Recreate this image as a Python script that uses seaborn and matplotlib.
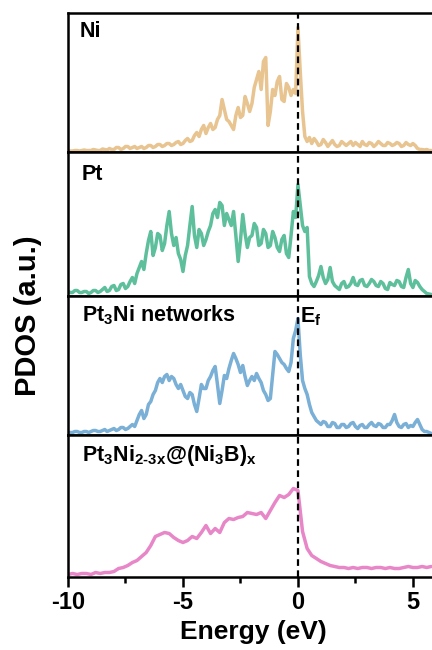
import numpy as np
import pandas as pd
import matplotlib
matplotlib.use("Agg")
import matplotlib.pyplot as plt
import seaborn as sns

# ---------------- data ----------------
energy_fine = [
    -10.0, -9.9, -9.8, -9.7, -9.6, -9.5, -9.4, -9.3, -9.2, -9.1,
    -9.0, -8.9, -8.8, -8.7, -8.6, -8.5, -8.4, -8.3, -8.2, -8.1,
    -8.0, -7.9, -7.8, -7.7, -7.6, -7.5, -7.4, -7.3, -7.2, -7.1,
    -7.0, -6.9, -6.8, -6.7, -6.6, -6.5, -6.4, -6.3, -6.2, -6.1,
    -6.0, -5.9, -5.8, -5.7, -5.6, -5.5, -5.4, -5.3, -5.2, -5.1,
    -5.0, -4.9, -4.8, -4.7, -4.6, -4.5, -4.4, -4.3, -4.2, -4.1,
    -4.0, -3.9, -3.8, -3.7, -3.6, -3.5, -3.4, -3.3, -3.2, -3.1,
    -3.0, -2.9, -2.8, -2.7, -2.6, -2.5, -2.4, -2.3, -2.2, -2.1,
    -2.0, -1.9, -1.8, -1.7, -1.6, -1.5, -1.4, -1.3, -1.2, -1.1,
    -1.0, -0.9, -0.8, -0.7, -0.6, -0.5, -0.4, -0.3, -0.2, -0.1,
    0.0, 0.1, 0.2, 0.3, 0.4, 0.5, 0.6, 0.7, 0.8, 0.9,
    1.0, 1.1, 1.2, 1.3, 1.4, 1.5, 1.6, 1.7, 1.8, 1.9,
    2.0, 2.1, 2.2, 2.3, 2.4, 2.5, 2.6, 2.7, 2.8, 2.9,
    3.0, 3.1, 3.2, 3.3, 3.4, 3.5, 3.6, 3.7, 3.8, 3.9,
    4.0, 4.1, 4.2, 4.3, 4.4, 4.5, 4.6, 4.7, 4.8, 4.9,
    5.0, 5.1, 5.2, 5.3, 5.4, 5.5, 5.6, 5.7, 5.8]

ni_pdos = [
    0.5, 0.5, 0.5, 1, 1, 0.5, 1, 1.5, 1, 1,
    1, 2, 1.5, 1, 1, 2.5, 2, 1.5, 3, 2,
    2, 4, 4, 2, 3, 5, 5, 3, 4, 5,
    3, 4, 5, 3, 4, 6, 6, 4, 5, 7,
    7, 5, 6, 8, 8, 6, 7, 9, 10, 7,
    8, 11, 13, 10, 11, 16, 19, 15, 22, 26,
    18, 24, 28, 22, 24, 32, 36, 52, 42, 32,
    30, 26, 22, 36, 44, 34, 36, 55, 48, 40,
    48, 64, 72, 80, 62, 90, 94, 26, 40, 62,
    56, 70, 75, 52, 50, 68, 64, 56, 62, 58,
    124, 80, 40, 15, 10, 14, 8, 13, 10, 6,
    7, 12, 9, 5, 8, 11, 7, 5, 6, 10,
    8, 6, 8, 10, 6, 9, 7, 5, 10, 7,
    6, 9, 8, 5, 7, 10, 8, 6, 6, 9,
    8, 6, 7, 9, 8, 5, 6, 9, 7, 6,
    8, 6, 3, 2, 2, 1.5, 2, 1, 1]

pt_pdos = [
    4, 3, 3, 5, 5, 3, 3, 4, 4, 2,
    3, 5, 5, 3, 4, 6, 8, 4, 5, 9,
    10, 5, 6, 11, 12, 7, 9, 14, 18, 12,
    22, 28, 34, 26, 42, 55, 64, 40, 48, 62,
    60, 45, 52, 70, 84, 62, 50, 58, 42, 36,
    24, 40, 50, 70, 89, 60, 48, 66, 62, 50,
    56, 64, 70, 82, 86, 78, 93, 90, 70, 82,
    76, 70, 84, 60, 34, 55, 81, 62, 48, 58,
    60, 72, 68, 50, 52, 66, 62, 48, 50, 64,
    58, 48, 44, 56, 60, 42, 38, 60, 84, 78,
    111, 90, 70, 64, 68, 19, 12, 9, 14, 20,
    29, 18, 12, 16, 28, 14, 10, 8, 6, 12,
    14, 8, 9, 12, 18, 11, 10, 15, 16, 10,
    9, 12, 16, 14, 10, 9, 14, 12, 7, 6,
    13, 11, 10, 15, 14, 9, 8, 18, 26, 12,
    8, 15, 13, 9, 6, 4, 2, 1.5, 1]

pt3ni_pdos = [
    2, 2, 2, 3, 3, 2, 2, 3, 3, 2,
    3, 4, 4, 3, 3, 4, 5, 3, 4, 5,
    6, 4, 5, 7, 7, 5, 6, 8, 10, 8,
    14, 20, 24, 16, 20, 30, 33, 40, 44, 52,
    56, 52, 58, 60, 54, 58, 56, 50, 46, 50,
    44, 38, 36, 42, 40, 30, 23, 36, 50, 46,
    46, 54, 58, 64, 68, 50, 31, 44, 59, 56,
    66, 74, 81, 76, 70, 62, 69, 58, 49, 54,
    58, 54, 61, 56, 52, 44, 40, 34, 36, 60,
    83, 80, 76, 72, 70, 66, 63, 72, 96, 104,
    116, 80, 54, 46, 40, 30, 22, 18, 14, 12,
    10, 13, 12, 8, 8, 12, 11, 7, 7, 10,
    10, 7, 8, 11, 12, 8, 6, 9, 10, 7,
    7, 10, 12, 9, 8, 11, 10, 7, 7, 10,
    10, 14, 20, 12, 8, 7, 10, 11, 7, 9,
    8, 12, 15, 10, 5, 3, 3, 2, 1]

energy_coarse = [
    -10.0, -9.8, -9.6, -9.4, -9.2, -9.0, -8.8, -8.6, -8.4, -8.2,
    -8.0, -7.8, -7.6, -7.4, -7.2, -7.0, -6.8, -6.6, -6.4, -6.2,
    -6.0, -5.8, -5.6, -5.4, -5.2, -5.0, -4.8, -4.6, -4.4, -4.2,
    -4.0, -3.8, -3.6, -3.4, -3.2, -3.0, -2.8, -2.6, -2.4, -2.2,
    -2.0, -1.8, -1.6, -1.4, -1.2, -1.0, -0.8, -0.6, -0.4, -0.2,
    0.0, 0.2, 0.4, 0.6, 0.8, 1.0, 1.2, 1.4, 1.6, 1.8,
    2.0, 2.2, 2.4, 2.6, 2.8, 3.0, 3.2, 3.4, 3.6, 3.8,
    4.0, 4.2, 4.4, 4.6, 4.8, 5.0, 5.2, 5.4, 5.6, 5.8]

ni3b_pdos = [
    2, 3, 2, 3, 3, 2, 4, 3, 4, 4,
    5, 8, 9, 11, 14, 16, 20, 24, 31, 40,
    42, 44, 43, 39, 36, 34, 36, 40, 38, 44,
    51, 43, 48, 44, 54, 58, 57, 59, 60, 64,
    63, 62, 64, 58, 66, 74, 81, 79, 82, 88,
    86, 45, 28, 21, 18, 15, 13, 11, 10, 9,
    9, 8, 9, 8, 9, 9, 8, 9, 9, 8,
    9, 8, 8, 9, 10, 9, 9, 10, 9, 10]

labels = [r"Ni", r"Pt", r"Pt$_{3}$Ni networks",
          r"Pt$_{3}$Ni$_{2\text{-}3x}$@(Ni$_{3}$B)$_{x}$"]
series = [(energy_fine, ni_pdos), (energy_fine, pt_pdos),
          (energy_fine, pt3ni_pdos), (energy_coarse, ni3b_pdos)]
colors = ["#E8C490", "#5EBF9C", "#7AAFD6", "#E887C8"]
x_ticks = [-10, -5, 0, 5]
x_minor = [-7.5, -2.5, 2.5]

# ---------------- style ----------------
sns.set_style("white")
plt.rcParams["font.family"] = ["Liberation Sans", "DejaVu Sans"]
plt.rcParams["font.weight"] = "bold"
plt.rcParams["text.color"] = "black"
plt.rcParams["axes.labelcolor"] = "black"
plt.rcParams["xtick.color"] = "black"
plt.rcParams["mathtext.fontset"] = "custom"
plt.rcParams["mathtext.rm"] = "Liberation Sans:bold"
plt.rcParams["mathtext.it"] = "Liberation Sans:bold"
plt.rcParams["mathtext.bf"] = "Liberation Sans:bold"
plt.rcParams["mathtext.default"] = "bf"

W, H = 432, 650
fig = plt.figure(figsize=(W / 100, H / 100), dpi=100)

bounds = [(13, 152), (152, 296), (296, 435), (435, 577)]
left_px = 68
label_y = [0.867, 0.844, 0.86, 0.856]

axes = []
for i, (top, bot) in enumerate(bounds):
    ax = fig.add_axes([left_px / W, 1 - bot / H, 1 - left_px / W, (bot - top) / H])
    xs, ys = series[i]
    df = pd.DataFrame({"Energy": xs, "PDOS": ys})
    sns.lineplot(data=df, x="Energy", y="PDOS", ax=ax, color=colors[i],
                 linewidth=2.5, legend=False)
    ax.axvline(0, color="black", linestyle=(0, (3, 2)), linewidth=1.6, zorder=5)
    ax.set_xlim(-10, 5.83)
    ax.set_ylim(-0.5, bot - top - 0.5)
    ax.set_xlabel("")
    ax.set_ylabel("")
    ax.set_yticks([])
    for s in ["left", "top", "bottom"]:
        ax.spines[s].set_linewidth(1.8)
        ax.spines[s].set_color("black")
    ax.spines["right"].set_visible(False)
    ax.text(0.038 if i else 0.033, label_y[i], labels[i], transform=ax.transAxes,
            fontsize=15.5, fontweight="bold", va="center", ha="left", color="black")
    if i < 3:
        ax.set_xticks([])
    axes.append(ax)

axes[2].text(0.1, 0.85, r"E$_{f}$", transform=axes[2].get_xaxis_transform(),
             fontsize=15.5, fontweight="bold", va="center", ha="left", color="black")

axb = axes[3]
axb.set_xticks(x_ticks)
axb.set_xticks(x_minor, minor=True)
axb.set_xticklabels([str(t) for t in x_ticks], fontsize=17, fontweight="bold",
                    color="black")
axb.tick_params(axis="x", which="major", direction="out", length=7, width=1.8,
                bottom=True, pad=3, colors="black")
axb.tick_params(axis="x", which="minor", direction="out", length=4, width=1.8,
                bottom=True, colors="black")

fig.text(253 / W, 1 - 632 / H, "Energy (eV)", fontsize=19, fontweight="bold",
         ha="center", va="center", color="black")
fig.text(28 / W, 1 - 316 / H, "PDOS (a.u.)", fontsize=21, fontweight="bold",
         ha="center", va="center", rotation=90, color="black")

fig.savefig("out.png", dpi=100)
